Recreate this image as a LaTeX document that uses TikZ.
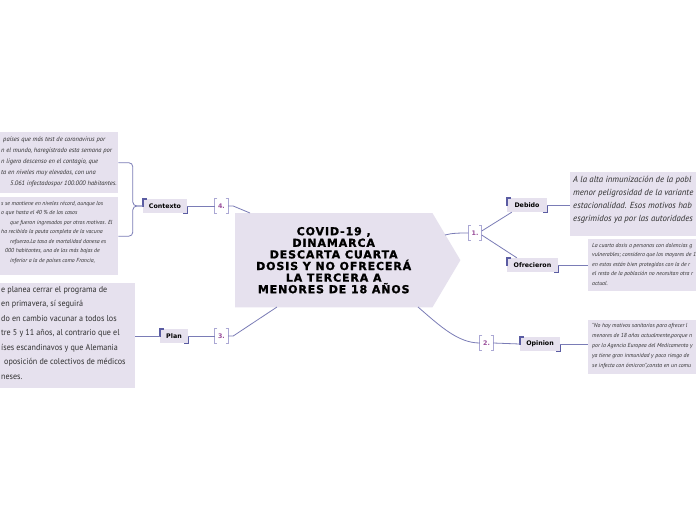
\documentclass[tikz,border=0pt]{standalone}
\usepackage{fontspec}
\newfontfamily\titlefont{DejaVu Sans}[LetterSpace=8, FakeBold=1.2]
\newfontfamily\lblfont{DejaVu Sans}
\newfontfamily\handfont{PT Sans}
\newfontfamily\handnarrow{PT Sans}[FakeStretch=0.94]
\usetikzlibrary{backgrounds}
\definecolor{lav}{HTML}{E6E1EE}
\definecolor{connc}{HTML}{7A7CB6}
\definecolor{brkc}{HTML}{5A5CA2}
\definecolor{numbrkc}{HTML}{ABA8D4}
\definecolor{numtxt}{HTML}{9A4E9A}
\definecolor{bodytxt}{HTML}{303030}
\newcommand\cornerbrk[1]{%
  \draw[brkline] ([yshift=-8pt]#1.north west) -- (#1.north west) -- ([xshift=4pt]#1.north west);
  \draw[brkline] ([yshift=7pt]#1.south east) -- (#1.south east) -- ([xshift=-4pt]#1.south east);}
\newcommand\drawnumbrk[1]{%
  \draw[numbrkline] ([xshift=2.5pt]#1.north west) -- (#1.north west) -- (#1.south west) -- ([xshift=2.5pt]#1.south west);
  \draw[numbrkline] ([xshift=-2.5pt]#1.north east) -- (#1.north east) -- (#1.south east) -- ([xshift=-2.5pt]#1.south east);}
\begin{document}
\begin{tikzpicture}[x=1pt,y=-1pt,
  tbox/.style={fill=lav, inner sep=0},
  btext/.style={text=bodytxt, inner sep=0, align=left},
  lbl/.style={fill=lav, font=\lblfont\bfseries\fontsize{6.3}{7}\selectfont, inner sep=0, minimum height=14, text=black},
  num/.style={font=\lblfont\bfseries\fontsize{6.3}{7}\selectfont, text=numtxt, minimum width=13, minimum height=14, inner sep=0},
  conn/.style={draw=connc, line width=0.8},
  brkline/.style={line width=1.4, draw=brkc},
  numbrkline/.style={line width=0.9, draw=numbrkc}]
\useasboundingbox (0,0) rectangle (696,520);
\clip (0,0) rectangle (696,520);

% central node
\node[font=\titlefont\bfseries\fontsize{11}{11.6}\selectfont, align=center, minimum width=197, minimum height=94, inner sep=0, anchor=north west] (c) at (235,213)
  {COVID-19 ,\\DINAMARCA\\DESCARTA CUARTA\\DOSIS Y NO OFRECERÁ\\LA TERCERA A\\MENORES DE 18 AÑOS};
\begin{scope}[on background layer]
\fill[white] (0,0) rectangle (696,520);
\fill[lav] (c.north west) -- (c.north east) -- ([xshift=28pt]c.east) -- (c.south east) -- (c.south west) -- cycle;
\end{scope}
\coordinate (c1) at (445,235);
\coordinate (c2) at (418,307);
\coordinate (c3) at (277,307);
\coordinate (c4) at (250,213);

% number nodes
\node[num] (n4) at (221.5,206) {4.};
\node[num] (n3) at (221.5,336) {3.};
\node[num] (n1) at (475,233) {1.};
\node[num] (n2) at (486.5,343) {2.};
\drawnumbrk{n4}\drawnumbrk{n3}\drawnumbrk{n1}\drawnumbrk{n2}

% label nodes
\node[lbl, minimum width=44] (ctx) at (165,206) {Contexto};
\node[lbl, minimum width=28] (plan) at (174,336) {Plan};
\node[lbl, minimum width=40] (deb) at (527,205) {Debido};
\node[lbl, minimum width=51] (ofr) at (532.5,265) {Ofrecieron};
\node[lbl, minimum width=40] (opn) at (540,344) {Opinion};
\cornerbrk{ctx}\cornerbrk{plan}\cornerbrk{deb}\cornerbrk{ofr}\cornerbrk{opn}

% text boxes
\node[tbox, anchor=north west, minimum width=123, minimum height=61] (A) at (-5,132) {};
\node[btext, anchor=north west, font=\handfont\itshape\fontsize{6.5}{10.8}\selectfont] (At) at (1,137)
 {\hspace*{2pt}países que más test de coronavirus por\\n el mundo, haregistrado esta semana por\\n ligero descenso en el contagio, que\\ta en niveles muy elevados, con una\\\hspace*{9pt}5.061 infectadospor 100.000 habitantes.};

\node[tbox, anchor=north west, minimum width=123, minimum height=78] (B) at (-5,197) {};
\node[btext, anchor=north west, font=\handfont\itshape\fontsize{5.8}{9.5}\selectfont] (Bt) at (1,201)
 {s se mantiene en niveles récord, aunque los\\o que hasta el 40 \% de los casos\\\hspace*{9pt}que fueron ingresados por otros motivos. El\\ha recibido la pauta completa de la vacuna\\\hspace*{9pt}refuerzo.La tasa de mortalidad danesa es\\\hspace*{4pt}000 habitantes, una de las más bajas de\\\hspace*{9pt}inferior a la de países como Francia,};

\node[tbox, anchor=north west, minimum width=140, minimum height=105] (C) at (-5,283) {};
\node[btext, anchor=north west, font=\handnarrow\fontsize{8.6}{14.5}\selectfont] (Ct) at (1,286)
 {e planea cerrar el programa de\\en primavera, sí seguirá\\do en cambio vacunar a todos los\\tre 5 y 11 años, al contrario que el\\íses escandinavos y que Alemania\\\hspace*{3pt}oposición de colectivos de médicos\\neses.};

\node[tbox, anchor=north west, minimum width=130, minimum height=64] (D) at (570,172) {};
\node[btext, anchor=north west, font=\handfont\itshape\fontsize{8.8}{13}\selectfont] (Dt) at (573,176)
 {A la alta inmunización de la pobl\\menor peligrosidad de la variante\\estacionalidad. Esos motivos hab\\esgrimidos ya por las autoridades};

\node[tbox, anchor=north west, minimum width=112, minimum height=52] (O) at (588,239) {};
\node[btext, anchor=north west, font=\handfont\itshape\fontsize{5.8}{9.5}\selectfont] (Ot) at (592,243)
 {La cuarta dosis a personas con dolencias g\\vulnerables; considera que los mayores de 1\\en estos están bien protegidos con la de r\\el resto de la población no necesitan otra r\\actual.};

\node[tbox, anchor=north west, minimum width=112, minimum height=54] (P) at (588,320) {};
\node[btext, anchor=north west, font=\handfont\itshape\fontsize{5.8}{10}\selectfont] (Pt) at (592,323)
 {"No hay motivos sanitarios para ofrecer l\\menores de 18 años actualmente,porque n\\por la Agencia Europea del Medicamento y\\ya tiene gran inmunidad y poco riesgo de\\se infecta con ómicron",consta en un comu};

% connectors
\draw[conn] (n4.east) -- ++(5,0) -- (c4);
\draw[conn] (n3.east) -- ++(5,0) -- (c3);
\draw[conn] (c1) .. controls (452,233) and (460,233) .. (n1.west);
\draw[conn] (c2) .. controls (440,326) and (458,343) .. (n2.west);
\draw[conn] (ctx.east) -- (n4.west);
\draw[conn] (plan.east) -- (n3.west);
\draw[conn, rounded corners=4] (ctx.west) -- ++(-10,0) |- (A.east);
\draw[conn, rounded corners=4] (ctx.west) -- ++(-10,0) |- (B.east);
\draw[conn] (plan.west) -- (C.east |- plan.west);
\draw[conn] ([yshift=2pt]n1.east) -- ([xshift=5pt]deb.south west);
\draw[conn] ([yshift=-2pt]n1.east) -- ([xshift=10pt]ofr.north west);
\draw[conn] (n2.east) -- (opn.west);
\draw[conn] (deb.east) -- (D.west |- deb.east);
\draw[conn] (ofr.east) -- (O.west |- ofr.east);
\draw[conn] (opn.east) -- (P.west |- opn.east);
\end{tikzpicture}
\end{document}
